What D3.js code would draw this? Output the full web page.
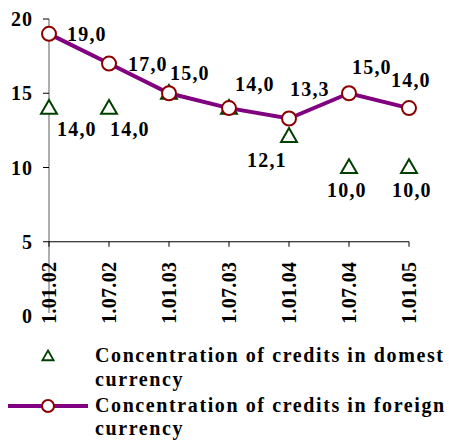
<!DOCTYPE html>
<html>
<head>
<meta charset="utf-8">
<script src="https://cdn.jsdelivr.net/npm/d3@7"></script>
<style>
  body { margin: 0; background: #fff; }
  svg text { font-family: "Liberation Serif", "Times New Roman", serif; font-weight: bold; fill: #000; }
</style>
</head>
<body>
<div id="chart"></div>
<script>
// данные
const dates = ['1.01.02', '1.07.02', '1.01.03', '1.07.03', '1.01.04', '1.07.04', '1.01.05'];
const domestic = [14.0, 14.0, 15.0, 14.0, 12.1, 10.0, 10.0];
const foreign = [19.0, 17.0, 15.0, 14.0, 13.3, 15.0, 14.0];
const yTicks = [0, 5, 10, 15, 20];
const seriesNames = ['Concentration of credits in domest', 'Concentration of credits in foreign'];

const width = 449, height = 443;

let svg = d3.select('#chart').append('svg').attr('width', width).attr('height', height);

let x = d3.scalePoint().domain(dates).range([49, 409]);
let y = d3.scaleLinear().domain([0, 20]).range([316, 19]);

let fmt = v => v.toFixed(1).replace('.', ',');

// ось Y
svg.append('line')
    .attr('x1', x(dates[0])).attr('x2', x(dates[0]))
    .attr('y1', y(20)).attr('y2', y(0) - 3)
    .attr('stroke', '#808080').attr('stroke-width', 1.3);

svg.selectAll('.ytick')
    .data(yTicks.filter(d => d > 0))
    .enter()
    .append('line')
    .attr('x1', x(dates[0]) - 6).attr('x2', x(dates[0]))
    .attr('y1', d => y(d)).attr('y2', d => y(d))
    .attr('stroke', '#000').attr('stroke-width', 1);

svg.selectAll('.ylabel')
    .data(yTicks)
    .enter()
    .append('text')
    .attr('x', 33).attr('y', d => y(d)).attr('dy', 7)
    .attr('text-anchor', 'end')
    .style('font-size', '20px').style('letter-spacing', '1px')
    .text(d => d);

// ось X проходит через 5
svg.append('line')
    .attr('x1', x(dates[0])).attr('x2', x(dates[dates.length - 1]))
    .attr('y1', y(5)).attr('y2', y(5))
    .attr('stroke', '#000').attr('stroke-width', 1);

svg.selectAll('.xtick')
    .data(dates)
    .enter()
    .append('line')
    .attr('x1', d => x(d)).attr('x2', d => x(d))
    .attr('y1', y(5)).attr('y2', y(5) + 5)
    .attr('stroke', '#000').attr('stroke-width', 1);

svg.selectAll('.xlabel')
    .data(dates)
    .enter()
    .append('text')
    .attr('transform', d => `translate(${x(d) + 7},${y(5) + 20}) rotate(-90)`)
    .attr('text-anchor', 'end')
    .style('font-size', '20px').style('letter-spacing', '0.3px')
    .text(d => d);

// домашняя валюта - треугольники
let tri = d3.symbol().type(d3.symbolTriangle).size(110);

svg.selectAll('.dom')
    .data(domestic)
    .enter()
    .append('path')
    .attr('d', tri)
    .attr('transform', (d, i) => `translate(${x(dates[i])},${y(d) + 1})`)
    .attr('fill', '#fff').attr('stroke', '#004000').attr('stroke-width', 2);

// иностранная валюта - линия
svg.append('path')
    .datum(foreign)
    .attr('fill', 'none')
    .attr('stroke', '#800080').attr('stroke-width', 4)
    .attr('d', d3.line().x((d, i) => x(dates[i])).y(d => y(d)));

svg.selectAll('.for')
    .data(foreign)
    .enter()
    .append('circle')
    .attr('cx', (d, i) => x(dates[i])).attr('cy', d => y(d))
    .attr('r', 7)
    .attr('fill', '#fff').attr('stroke', '#8b0000').attr('stroke-width', 2);

// подписи
const domNudge = [[8, 28], [1, 28], null, null, [-42, 31], [-22, 29], [-17, 29]];
const forNudge = [[18, 7], [19, 7], [1, -13], [6, -17], [1, -22], [3, -19], [-18, -21]];

svg.selectAll('.domlabel')
    .data(domestic.map((v, i) => ({ v, i })).filter(d => domNudge[d.i]))
    .enter()
    .append('text')
    .attr('x', d => x(dates[d.i]) + domNudge[d.i][0])
    .attr('y', d => y(d.v) + domNudge[d.i][1])
    .style('font-size', '20px').style('letter-spacing', '1.2px')
    .text(d => fmt(d.v));

svg.selectAll('.forlabel')
    .data(foreign.map((v, i) => ({ v, i })))
    .enter()
    .append('text')
    .attr('x', d => x(dates[d.i]) + forNudge[d.i][0])
    .attr('y', d => y(d.v) + forNudge[d.i][1])
    .style('font-size', '20px').style('letter-spacing', '1.2px')
    .text(d => fmt(d.v));

// легенда
let legend = svg.append('g');

legend.append('path')
    .attr('d', d3.symbol().type(d3.symbolTriangle).size(55))
    .attr('transform', 'translate(48,357)')
    .attr('fill', '#fff').attr('stroke', '#004000').attr('stroke-width', 1.8);

legend.append('line')
    .attr('x1', 8).attr('x2', 88).attr('y1', 406).attr('y2', 406)
    .attr('stroke', '#800080').attr('stroke-width', 4);

legend.append('circle')
    .attr('cx', 48).attr('cy', 406).attr('r', 6)
    .attr('fill', '#fff').attr('stroke', '#8b0000').attr('stroke-width', 2);

[[seriesNames[0], 362], ['currency', 386], [seriesNames[1], 412], ['currency', 435]].forEach(t => {
    legend.append('text')
        .attr('x', 95).attr('y', t[1])
        .style('font-size', '20px').style('letter-spacing', '1.6px')
        .text(t[0]);
});
</script>
</body>
</html>
